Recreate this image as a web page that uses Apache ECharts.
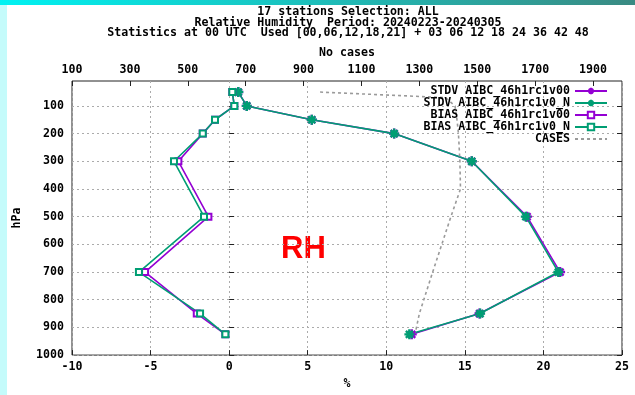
<!DOCTYPE html>
<html>
<head>
<meta charset="utf-8">
<title>RH statistics</title>
<script src="https://cdn.jsdelivr.net/npm/echarts@6/dist/echarts.min.js"></script>
<style>
  html, body { margin: 0; padding: 0; background: #fff; }
  #chart { width: 635px; height: 395px; }
</style>
</head>
<body>
<div id="chart"></div>
<script>
// pressure levels (hPa) of the profiles
const levels = [50, 100, 150, 200, 300, 500, 700, 850, 925]
const stdvV00 = [0.58, 1.12, 5.26, 10.5, 15.44, 18.96, 21.06, 15.93, 11.62]
const stdvN = [0.58, 1.12, 5.26, 10.5, 15.44, 18.88, 20.95, 15.97, 11.47]
const biasV00 = [0.2, 0.33, -0.9, -1.68, -3.23, -1.32, -5.35, -2.06, -0.24]
const biasN = [0.2, 0.33, -0.9, -1.68, -3.51, -1.6, -5.74, -1.85, -0.24]

// number of cases per level (top axis)
const caseLevels = [50, 70, 100, 150, 200, 300, 400, 500, 700, 850, 925]
const cases = [957, 1390, 1423, 1430, 1435, 1440, 1442, 1409, 1346, 1300, 1285]

const pressureTicks = [100, 200, 300, 400, 500, 600, 700, 800, 900, 1000]
const caseTicks = [100, 300, 500, 700, 900, 1100, 1300, 1500, 1700, 1900]

const PURPLE = '#9400d3'
const TEAL = '#009e73'
const MONO = 'DejaVu Sans Mono'
const ASTERISK = 'path://M0,5L10,5M5,0L5,10M1.5,1.5L8.5,8.5M8.5,1.5L1.5,8.5'

const textBase = { fontFamily: MONO, fontWeight: 'bold', fontSize: 11.6, color: '#000' }
const dotted = { color: '#ababab', width: 1, type: [2, 3] }
const plain = (v) => String(v)

const pairs = (xs, ys) => xs.map((v, i) => [v, ys[i]])

function profile(name, values, color, isStdv) {
  return {
    name,
    type: 'line',
    xAxisIndex: 0,
    yAxisIndex: 0,
    data: pairs(values, levels),
    symbol: isStdv ? ASTERISK : 'emptyRect',
    symbolSize: isStdv ? 10 : 6,
    lineStyle: { color, width: 1.6 },
    itemStyle: { color, borderColor: color, borderWidth: isStdv ? 2.4 : 1.5 }
  }
}

const chart = echarts.init(document.getElementById('chart'), null, { renderer: 'canvas' })

chart.setOption({
  animation: false,
  backgroundColor: '#fff',
  title: {
    text: '17 stations Selection: ALL\nRelative Humidity  Period: 20240223-20240305\nStatistics at 00 UTC  Used [00,06,12,18,21] + 03 06 12 18 24 36 42 48',
    left: 348,
    top: 7,
    textAlign: 'center',
    textStyle: { ...textBase, lineHeight: 10.5 },
    padding: 0
  },
  graphic: [
    { type: 'rect', left: 0, top: 0, shape: { width: 7, height: 395 }, style: { fill: '#c4fbfb' }, silent: true },
    {
      type: 'rect', left: 0, top: 0, shape: { width: 635, height: 5 }, silent: true,
      style: {
        fill: new echarts.graphic.LinearGradient(0, 0, 1, 0, [
          { offset: 0, color: '#00f2f2' },
          { offset: 1, color: '#3a8a82' }
        ])
      }
    },
    {
      type: 'text', left: 281, top: 234, silent: true,
      style: { text: 'RH', fill: '#ff0000', font: 'bold 31px "Liberation Sans", Arial, sans-serif' }
    }
  ],
  legend: {
    orient: 'vertical',
    align: 'right',
    right: 27,
    top: 85,
    itemWidth: 32,
    itemHeight: 8,
    itemGap: 0,
    padding: 0,
    textStyle: { ...textBase, lineHeight: 10.6 },
    data: [
      'STDV AIBC_46h1rc1v00',
      'STDV AIBC_46h1rc1v0_N',
      'BIAS AIBC_46h1rc1v00',
      'BIAS AIBC_46h1rc1v0_N',
      { name: 'CASES', itemStyle: { opacity: 0 } }
    ]
  },
  grid: {
    show: true,
    left: 72,
    right: 13,
    top: 81,
    bottom: 31,
    borderColor: '#222',
    borderWidth: 1,
    containLabel: false
  },
  xAxis: [
    {
      type: 'value',
      position: 'bottom',
      min: -10,
      max: 25,
      interval: 5,
      name: '%',
      nameLocation: 'middle',
      nameGap: 18,
      nameTextStyle: textBase,
      axisLine: { show: false },
      axisTick: { inside: true, length: 5, lineStyle: { color: '#222' } },
      axisLabel: { ...textBase, margin: 6, formatter: plain },
      splitLine: { show: true, lineStyle: dotted }
    },
    {
      type: 'value',
      position: 'top',
      min: 100,
      max: 2000,
      name: 'No cases',
      nameLocation: 'middle',
      nameGap: 21,
      nameTextStyle: textBase,
      axisLine: { show: false },
      axisTick: { inside: true, length: 5, customValues: caseTicks, lineStyle: { color: '#222' } },
      axisLabel: { ...textBase, margin: 5, customValues: caseTicks, formatter: plain },
      splitLine: { show: false }
    }
  ],
  yAxis: [
    {
      type: 'value',
      position: 'left',
      inverse: true,
      min: 10,
      max: 1000,
      name: 'hPa',
      nameLocation: 'middle',
      nameRotate: 90,
      nameGap: 49,
      nameTextStyle: textBase,
      axisLine: { show: false },
      axisTick: { inside: true, length: 5, customValues: pressureTicks, lineStyle: { color: '#222' } },
      axisLabel: { ...textBase, margin: 8, customValues: pressureTicks, formatter: plain },
      splitLine: { show: true, lineStyle: dotted }
    },
    {
      type: 'value',
      position: 'right',
      inverse: true,
      min: 10,
      max: 1000,
      axisLine: { show: false },
      axisTick: { inside: true, length: 5, customValues: pressureTicks, lineStyle: { color: '#222' } },
      axisLabel: { show: false },
      splitLine: { show: false }
    }
  ],
  series: [
    profile('STDV AIBC_46h1rc1v00', stdvV00, PURPLE, true),
    profile('STDV AIBC_46h1rc1v0_N', stdvN, TEAL, true),
    profile('BIAS AIBC_46h1rc1v00', biasV00, PURPLE, false),
    profile('BIAS AIBC_46h1rc1v0_N', biasN, TEAL, false),
    {
      name: 'CASES',
      type: 'line',
      xAxisIndex: 1,
      yAxisIndex: 0,
      data: pairs(cases, caseLevels),
      symbol: 'none',
      lineStyle: { color: '#9a9a9a', width: 1.6, type: [3, 3] },
      itemStyle: { color: '#9a9a9a' }
    }
  ]
})
</script>
</body>
</html>
